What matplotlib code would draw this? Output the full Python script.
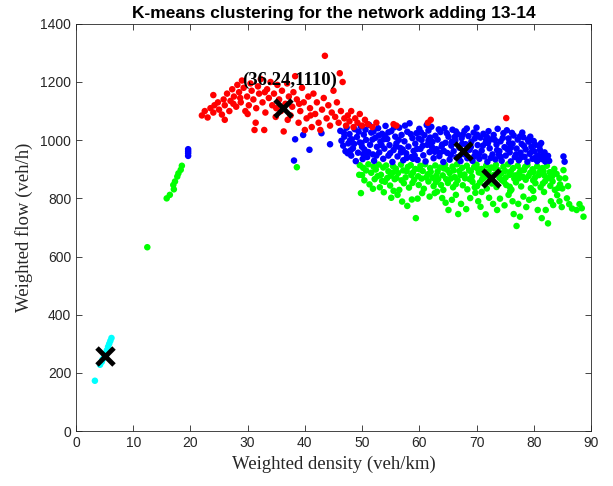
import matplotlib
matplotlib.use('Agg')
import matplotlib.pyplot as plt

# cluster points: density (veh/km), flow (veh/h)
cyan_x = [3.3, 4.2, 4.5, 4.6, 4.8, 5.0, 5.2, 5.3, 5.4, 5.6, 5.8, 6.0, 6.2]
cyan_y = [173, 228, 238, 245, 250, 258, 268, 262, 278, 290, 300, 310, 320]

red_x = [22.0, 22.5, 23, 23.5, 24, 24.2, 24.8, 25, 25.5, 25.8, 26, 26.4, 26.8, 27, 27.3,
         27.6, 28, 28.2, 28.5, 28.8, 29, 29.3, 29.6, 29.9, 30.2, 30.5, 30.7, 31, 31.2,
         31.5, 31.8, 32, 32.3, 32.6, 32.9, 33.1, 33.4, 33.7, 34, 34.3, 34.6, 34.9, 35.2,
         35.5, 35.8, 36, 36.3, 36.6, 36.9, 37.2, 37.5, 37.8, 38, 38.3, 38.6, 38.9, 39.2,
         39.5, 39.8, 40, 40.3, 40.6, 40.9, 41.2, 41.5, 41.8, 42.1, 42.4, 42.7, 43, 43.3,
         43.5, 43.8, 44.1, 44.4, 44.7, 45, 45.3, 45.6, 45.9, 46.1, 46.3, 46.6, 46.9, 47.2,
         47.5, 47.8, 48.1, 48.5, 48.8, 49.2, 49.6, 50, 50.5, 51, 51.8, 52.5, 55.5, 56,
         61.5, 62, 75.2, 27.5, 30, 33, 35, 37, 39, 41, 26, 24, 28.7, 31.4]
red_y = [1085, 1100, 1078, 1110, 1095, 1120, 1130, 1105, 1088, 1140, 1120, 1160, 1100,
         1135, 1175, 1150, 1115, 1190, 1165, 1130, 1205, 1180, 1100, 1150, 1120, 1195,
         1170, 1140, 1035, 1110, 1185, 1160, 1210, 1130, 1035, 1095, 1175, 1145, 1200,
         1120, 1160, 1080, 1190, 1140, 1100, 1170, 1030, 1125, 1195, 1150, 1085, 1115,
         1165, 1220, 1140, 1060, 1100, 1180, 1130, 1035, 1075, 1150, 1110, 1045, 1160,
         1090, 1130, 1060, 1035, 1105, 1145, 1290, 1075, 1120, 1050, 1095, 1170, 1080,
         1130, 1060, 1230, 1100, 1200, 1075, 1050, 1085, 1065, 1100, 1045, 1075, 1060,
         1090, 1050, 1070, 1055, 1045, 1060, 1055, 1050, 1060, 1070, 1076, 1125, 1090,
         1165, 1110, 1070, 1125, 1085, 1070, 1155, 1145, 1060]

blue_pts = [
    (19.6, 946), (19.6, 955), (19.6, 962), (19.6, 969), (38.1, 930), (38.3, 1003),
    (39.7, 1018), (40.8, 967), (42.9, 1024), (44.4, 986),
    (46.2, 1032), (46.4, 998), (46.7, 981), (46.9, 1012), (47.1, 962), (47.3, 1043),
    (47.6, 989), (47.8, 1021), (48.1, 947), (48.2, 1003), (48.4, 972), (48.7, 1038),
    (48.9, 928), (49.1, 1011), (49.3, 957), (49.6, 992), (49.8, 1047), (50.1, 935),
    (50.3, 1019), (50.4, 968), (50.7, 1001), (50.9, 942), (51.2, 1053), (51.4, 984),
    (51.6, 1026), (51.9, 951), (52.1, 929), (52.3, 1008), (52.6, 977), (52.8, 1041),
    (53.0, 958), (53.2, 995), (53.5, 1022), (53.7, 936), (53.9, 971), (54.1, 1049),
    (54.4, 1004), (54.6, 947), (54.8, 983), (55.1, 1031), (55.3, 925), (55.5, 966),
    (55.8, 1012), (56.0, 989), (56.2, 944), (56.5, 1043), (56.7, 973), (56.9, 1018),
    (57.2, 931), (57.4, 996), (57.7, 955), (57.9, 1029), (58.1, 978), (58.3, 1058),
    (58.6, 942), (58.8, 1007), (59.0, 963), (59.3, 988), (59.5, 1024), (59.7, 932),
    (60.0, 1039), (60.2, 970), (60.4, 1001), (60.7, 948), (60.9, 1017), (61.1, 927),
    (61.4, 984), (61.6, 1033), (61.8, 959), (62.1, 1046), (62.3, 994), (62.5, 938),
    (62.8, 1015), (63.0, 969), (63.2, 1002), (63.5, 945), (63.7, 1028), (63.9, 978),
    (64.2, 925), (64.4, 1041), (64.6, 991), (64.9, 956), (65.1, 1012), (65.3, 933),
    (65.6, 981), (65.8, 1036), (66.0, 962), (66.3, 999), (66.5, 941), (66.7, 1021),
    (67.0, 974), (67.2, 928), (67.4, 1007), (67.7, 952), (67.9, 1032), (68.1, 986),
    (68.4, 938), (68.6, 1014), (68.8, 967), (69.1, 995), (69.3, 929), (69.5, 1026),
    (69.8, 958), (70.0, 1043), (70.2, 983), (70.5, 936), (70.7, 1009), (70.9, 964),
    (71.2, 1022), (71.4, 944), (71.6, 991), (71.9, 926), (72.1, 1031), (72.3, 972),
    (72.6, 1003), (72.8, 951), (73.0, 1018), (73.3, 934), (73.5, 985), (73.7, 1039),
    (74.0, 962), (74.2, 996), (74.4, 929), (74.7, 1024), (74.9, 976), (75.1, 947),
    (75.3, 1034), (75.6, 1006), (75.8, 958), (76.0, 927), (76.3, 988), (76.5, 1016),
    (76.7, 942), (77.0, 971), (77.2, 1002), (77.4, 931), (77.7, 957), (77.9, 987),
    (78.2, 1010), (78.4, 943), (78.6, 968), (78.9, 926), (79.1, 995), (79.3, 953),
    (79.6, 978), (79.8, 936), (80.1, 962), (80.3, 984), (80.6, 928), (80.8, 948),
    (81.1, 966), (81.4, 935), (81.7, 951), (82.0, 927), (82.3, 940), (82.7, 929),
    (85.2, 944), (85.4, 926),
    (46.8, 1026), (47.5, 955), (48.6, 987), (49.4, 1029), (50.0, 977), (50.6, 1036),
    (51.1, 959), (51.8, 1002), (52.5, 947), (53.4, 983), (54.0, 1015), (54.9, 955),
    (55.6, 1044), (56.4, 1001), (57.1, 968), (57.8, 939), (58.5, 1021), (59.2, 947),
    (59.9, 1006), (60.6, 981), (61.3, 1052), (61.9, 1009), (62.7, 960), (63.4, 1037),
    (64.0, 985), (64.8, 1024), (65.5, 949), (66.2, 1011), (66.9, 940), (67.5, 988),
    (68.3, 1040), (69.0, 976), (69.7, 1006), (70.4, 951), (71.1, 981), (71.8, 1012),
    (72.5, 939), (73.2, 1001), (73.9, 950), (74.6, 1008), (75.4, 969), (76.2, 1025),
    (76.9, 951), (77.6, 1013), (78.3, 980), (79.0, 1001), (79.7, 962), (80.4, 942),
    (81.0, 979), (81.9, 958),
    (47.9, 1000), (49.9, 990), (52.0, 1030), (53.8, 1003), (55.9, 978), (57.5, 1050),
    (59.6, 970), (61.6, 999), (63.6, 956), (65.7, 995), (67.6, 1019), (69.6, 944),
    (71.7, 1002), (73.6, 966), (75.7, 990), (77.8, 941), (79.4, 1012), (81.3, 990),
    (48.0, 965), (50.2, 952), (52.9, 1016), (54.6, 1027), (56.8, 958), (58.9, 936),
    (60.3, 1027), (62.2, 977), (64.3, 963), (66.4, 1030), (68.0, 955), (70.1, 1019),
    (72.0, 990), (74.2, 943), (76.0, 974), (78.0, 1026), (80.0, 997), (82.5, 946),
]

green_pts = [
    (12.46, 632), (15.85, 800), (16.4, 812), (17.0, 846), (17.1, 831), (17.3, 858),
    (17.7, 875), (17.9, 886), (18.3, 898), (18.5, 912), (38.6, 907),
    (49.6, 914), (50.2, 905), (50.7, 896), (51.1, 917), (51.6, 888), (52.0, 909),
    (52.4, 899), (52.9, 916), (53.3, 881), (53.7, 906), (54.2, 913), (54.6, 893),
    (55.0, 878), (55.4, 911), (55.9, 902), (56.3, 887), (56.8, 916), (57.2, 896),
    (57.6, 872), (58.0, 908), (58.5, 914), (58.9, 889), (59.3, 901), (59.8, 876),
    (60.2, 912), (60.6, 894), (61.0, 917), (61.5, 883), (61.9, 904), (62.3, 871),
    (62.8, 913), (63.2, 892), (63.6, 906), (64.1, 879), (64.5, 915), (64.9, 898),
    (65.3, 887), (65.8, 909), (66.2, 873), (66.6, 917), (67.0, 894), (67.5, 905),
    (67.9, 882), (68.3, 912), (68.7, 897), (69.2, 875), (69.6, 908), (70.0, 916),
    (70.4, 889), (70.9, 901), (71.3, 871), (71.7, 913), (72.1, 893), (72.6, 906),
    (73.0, 880), (73.4, 915), (73.8, 897), (74.3, 886), (74.7, 909), (75.1, 872),
    (75.5, 917), (76.0, 893), (76.4, 904), (76.8, 879), (77.2, 912), (77.7, 896),
    (78.1, 874), (78.5, 908), (78.9, 915), (79.4, 888), (79.8, 900), (80.2, 871),
    (80.6, 910), (81.1, 892), (81.5, 904), (81.9, 878), (82.3, 912), (82.8, 890),
    (83.2, 875), (83.6, 901), (84.0, 884), (84.5, 869), (85.2, 897), (85.5, 869),
    (50.4, 862), (51.3, 848), (52.2, 866), (53.1, 838), (54.0, 857), (54.9, 844),
    (55.7, 866), (56.5, 829), (57.3, 852), (58.2, 837), (59.1, 864), (59.9, 846),
    (60.8, 833), (61.6, 858), (62.5, 842), (63.3, 866), (64.2, 829), (65.0, 853),
    (65.9, 838), (66.7, 862), (67.6, 845), (68.4, 831), (69.3, 857), (70.1, 842),
    (71.0, 866), (71.8, 834), (72.7, 851), (73.5, 839), (74.4, 863), (75.2, 846),
    (76.1, 830), (76.9, 855), (77.8, 841), (78.6, 864), (79.5, 835), (80.3, 852),
    (81.2, 838), (82.0, 859), (82.9, 843), (83.7, 829), (84.6, 848), (85.0, 834),
    (86.0, 842),
    (55.3, 888), (56.0, 870), (57.8, 893), (58.6, 880), (60.0, 900), (61.2, 872),
    (62.0, 891), (63.0, 878), (64.3, 903), (65.5, 868), (66.0, 896), (67.2, 880),
    (68.0, 869), (69.0, 893), (70.2, 902), (71.0, 884), (72.3, 876), (73.2, 903),
    (74.0, 871), (75.0, 894), (75.8, 881), (76.6, 868), (77.5, 888), (78.3, 897),
    (79.1, 877), (80.0, 890), (80.9, 880), (81.7, 894), (82.6, 870), (83.5, 888),
    (56.9, 862), (58.8, 853), (60.4, 868), (62.9, 856), (64.7, 866), (66.4, 849),
    (68.8, 866), (70.6, 855), (72.4, 866), (74.8, 857), (77.4, 869), (79.9, 862),
    (81.6, 851), (83.3, 858), (84.3, 836), (63.8, 846), (69.7, 838), (75.8, 840),
    (50.0, 880), (52.7, 876), (54.4, 870), (53.5, 860), (51.9, 833), (55.5, 826),
    (49.5, 881), (49.8, 818), (53.8, 821), (55.1, 802), (56.2, 812), (57.0, 789),
    (57.9, 774), (58.7, 796), (59.4, 732), (59.7, 799), (60.5, 818), (61.8, 806),
    (63.1, 823), (64.0, 801), (65.1, 760), (65.7, 795), (66.4, 812), (66.8, 746),
    (67.3, 781), (68.2, 763), (68.9, 801), (69.8, 819), (70.3, 790), (70.7, 771),
    (71.6, 745), (72.2, 802), (72.9, 781), (73.6, 760), (74.1, 799), (74.9, 776),
    (75.6, 812), (76.3, 790), (76.5, 746), (77.0, 705), (77.3, 781), (77.6, 737),
    (78.2, 806), (78.7, 770), (79.2, 795), (80.0, 801), (80.7, 760), (81.4, 732),
    (81.8, 822), (82.1, 760), (82.5, 714), (83.0, 790), (83.4, 777), (84.1, 811),
    (84.5, 790), (84.9, 770), (85.8, 800), (86.2, 780), (86.7, 765), (87.5, 760),
    (88.0, 780), (88.4, 766), (88.7, 737), (62.7, 818), (64.6, 785), (70.9, 822),
    (75.9, 825), (79.9, 826),
]

cent_x = [5.07, 36.24, 67.6, 72.5]
cent_y = [258, 1110, 963, 871]
label_text = '(36.24,1110)'

blue_x = [p[0] for p in blue_pts]
blue_y = [p[1] for p in blue_pts]
green_x = [p[0] for p in green_pts]
green_y = [p[1] for p in green_pts]

fig = plt.figure(figsize=(6.13, 4.86), dpi=100)
ax = fig.add_axes([0.124, 0.113, 0.84, 0.838])

dot = 22
ax.scatter(green_x, green_y, s=dot, c='#00ff00', edgecolors='none')
ax.scatter(blue_x, blue_y, s=dot, c='#0000ff', edgecolors='none')
ax.scatter(red_x, red_y, s=dot, c='#ff0000', edgecolors='none')
ax.scatter(cyan_x, cyan_y, s=dot, c='#00ffff', edgecolors='none')
ax.scatter(cent_x, cent_y, s=150, marker='x', c='k', linewidths=3.5, zorder=5)

ax.text(37.4, 1205, label_text, ha='center', va='center', fontsize=13.5,
        fontweight='bold', family='Liberation Serif')

ax.set_xlim(0, 90)
ax.set_ylim(0, 1400)
ax.set_xticks(range(0, 91, 10))
ax.set_yticks(range(0, 1401, 200))
ax.tick_params(direction='in', top=True, right=True, length=4, width=0.6,
               colors='#262626', labelsize=10, labelcolor='#262626')
for lab in ax.get_xticklabels() + ax.get_yticklabels():
    lab.set_family('Liberation Sans')
for sp in ax.spines.values():
    sp.set_color('#262626')
    sp.set_linewidth(0.6)

ax.set_title('K-means clustering for the network adding 13-14', fontsize=12.5,
             fontweight='bold', family='Liberation Sans', pad=4)
ax.set_xlabel('Weighted density (veh/km)', fontsize=13.5, family='Liberation Serif',
              color='#262626', labelpad=4)
ax.set_ylabel('Weighted flow (veh/h)', fontsize=13.5, family='Liberation Serif',
              color='#262626', labelpad=5)

fig.savefig('out.png', dpi=100)
